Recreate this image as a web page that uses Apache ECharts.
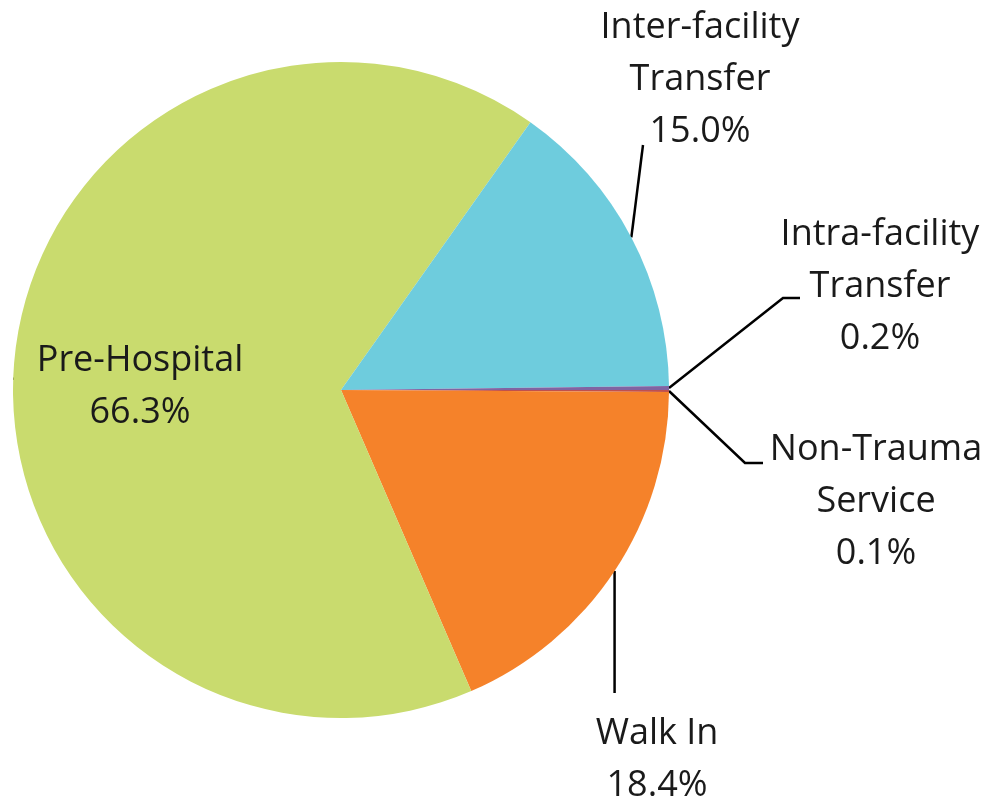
<!DOCTYPE html>
<html>
<head>
<meta charset="utf-8">
<script src="https://cdn.jsdelivr.net/npm/echarts@6/dist/echarts.min.js"></script>
<style>
  html, body { margin: 0; padding: 0; background: #fff; }
  #chart { width: 1003px; height: 809px; }
</style>
</head>
<body>
<div id="chart"></div>
<script>
// slices, clockwise from 3 o'clock
const categories = ["Non-Trauma\nService", "Walk In", "Pre-Hospital", "Inter-facility\nTransfer", "Intra-facility\nTransfer"];
const shares = [0.1, 18.4, 66.3, 15.0, 0.2];
const colors = ["#c0504d", "#f5822a", "#c9db6e", "#6eccdd", "#8064a2"];

// label centres (layout only); leader lines are drawn relative to them
const labelPos = [[876, 502], [657, 760], [140, 387], [700, 80], [880, 287]];

const chart = echarts.init(document.getElementById("chart"));

chart.setOption({
  animation: false,
  series: [
    {
      type: "pie",
      center: [341, 390],
      radius: 328,
      startAngle: 0,
      clockwise: true,
      avoidLabelOverlap: false,
      emphasis: { disabled: true },
      data: categories.map((name, i) => ({
        name: name,
        value: shares[i],
        itemStyle: { color: colors[i] },
        label: i === 2 ? { position: "inside" } : {},
      })),
      label: {
        show: true,
        position: "outside",
        formatter: (p) => p.name + "\n" + p.value.toFixed(1) + "%",
        fontFamily: "Open Sans",
        fontSize: 36,
        lineHeight: 52,
        color: "#1a1a1a",
        align: "center",
      },
      labelLine: {
        show: true,
        length: 20,
        length2: 10,
        lineStyle: { color: "#000", width: 2.5 },
      },
      labelLayout: function (params) {
        const i = params.dataIndex;
        const cx = labelPos[i][0];
        const cy = labelPos[i][1];
        const out = { x: cx, y: cy, align: "center", verticalAlign: "middle" };
        const pts = params.labelLinePoints;
        if (pts && i !== 2) {
          const p0 = pts[0];
          if (i === 0) out.labelLinePoints = [p0, [cx - 131, cy - 39], [cx - 113, cy - 39]];
          if (i === 4) out.labelLinePoints = [p0, [cx - 97, cy + 11], [cx - 80, cy + 11]];
          if (i === 3) out.labelLinePoints = [p0, [cx - 57, cy + 65]];
          if (i === 1) out.labelLinePoints = [p0, [p0[0], cy - 67]];
        }
        return out;
      },
    },
  ],
});
</script>
</body>
</html>
